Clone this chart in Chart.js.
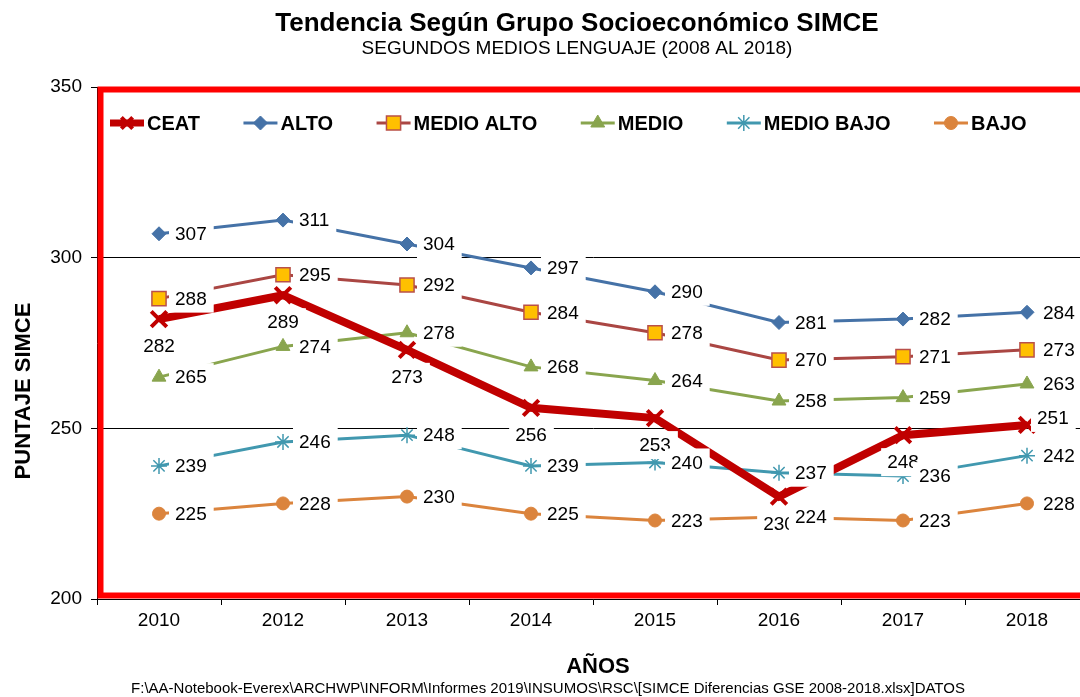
<!DOCTYPE html>
<html><head><meta charset="utf-8">
<script src="https://cdn.jsdelivr.net/npm/chart.js@4/dist/chart.umd.min.js"></script>
<style>
html,body{margin:0;padding:0;background:#fff;overflow:hidden;width:1080px;height:697px}
#wrap{position:relative;width:1154px;height:697px}
canvas{display:block}
</style>
</head><body><div id="wrap"><canvas id="c" width="1154" height="697"></canvas></div>
<script>
const years = ['2010','2012','2013','2014','2015','2016','2017','2018'];
const ceat = [282,289,273,256,253,230,248,251];
const alto = [307,311,304,297,290,281,282,284];
const medioAlto = [288,295,292,284,278,270,271,273];
const medio = [265,274,278,268,264,258,259,263];
const medioBajo = [239,246,248,239,240,237,236,242];
const bajo = [225,228,230,225,223,224,223,228];
const seriesNames = ['CEAT','ALTO','MEDIO ALTO','MEDIO','MEDIO BAJO','BAJO'];
const titleText = 'Tendencia Según Grupo Socioeconómico SIMCE';
const subtitleText = 'SEGUNDOS MEDIOS LENGUAJE (2008 AL 2018)';
const xTitle = 'AÑOS';
const yTitle = 'PUNTAJE SIMCE';
const footerText = 'F:\\AA-Notebook-Everex\\ARCHWP\\INFORM\\Informes 2019\\INSUMOS\\RSC\\[SIMCE Diferencias GSE 2008-2018.xlsx]DATOS';

const FONT = '"Liberation Sans", Arial, Helvetica, sans-serif';

const datasets = [
  {label: seriesNames[0], data: ceat, borderColor:'#C00000', backgroundColor:'#C00000', borderWidth:8,
   pointStyle:'crossRot', pointRadius:11, pointBorderWidth:4, legendRadius:8, legendLine:7},
  {label: seriesNames[1], data: alto, borderColor:'#4572A7', backgroundColor:'#4572A7', borderWidth:3,
   pointStyle:'rectRot', pointRadius:7, pointBorderWidth:1, legendRadius:7, legendLine:3},
  {label: seriesNames[2], data: medioAlto, borderColor:'#AA4643', backgroundColor:'#FFC000', pointBorderColor:'#B9504A', borderWidth:3,
   pointStyle:'rect', pointRadius:10, pointBorderWidth:1.5, legendRadius:10, legendLine:3},
  {label: seriesNames[3], data: medio, borderColor:'#89A54E', backgroundColor:'#89A54E', borderWidth:3,
   pointStyle:'triangle', pointRadius:8, pointBorderWidth:1, legendRadius:8, legendLine:3},
  {label: seriesNames[4], data: medioBajo, borderColor:'#4198AF', backgroundColor:'#4198AF', borderWidth:3,
   pointStyle:'star', pointRadius:8, pointBorderWidth:1.5, legendRadius:8, legendLine:3},
  {label: seriesNames[5], data: bajo, borderColor:'#DB843D', backgroundColor:'#DB843D', borderWidth:3,
   pointStyle:'circle', pointRadius:6.5, pointBorderWidth:1, legendRadius:6.5, legendLine:3}
];
datasets.forEach(d => { d.tension = 0; d.fill = false; d.pointHoverRadius = d.pointRadius; d.yAxisID = 'y'; });

const framePlugin = {
  id: 'frame',
  afterDatasetsDraw(chart) {
    const {ctx, chartArea: a} = chart;
    ctx.save();
    ctx.strokeStyle = '#FF0000';
    ctx.lineWidth = 6;
    ctx.strokeRect(a.left + 3.5, a.top + 2.5, a.right - a.left - 7, a.bottom - a.top - 6);
    ctx.restore();
  }
};

const legendPlugin = {
  id: 'customLegend',
  afterDraw(chart) {
    const {ctx, chartArea: a} = chart;
    ctx.save();
    ctx.font = 'bold 20px ' + FONT;
    ctx.textBaseline = 'middle';
    ctx.textAlign = 'left';
    let x = a.left + 12;
    const y = a.top + 36;
    chart.data.datasets.forEach(ds => {
      ctx.strokeStyle = ds.borderColor;
      ctx.lineWidth = ds.legendLine;
      ctx.lineCap = 'butt';
      ctx.beginPath(); ctx.moveTo(x + 1, y); ctx.lineTo(x + 35, y); ctx.stroke();
      ctx.fillStyle = ds.backgroundColor;
      ctx.strokeStyle = ds.pointBorderColor || ds.borderColor;
      ctx.lineWidth = ds.pointBorderWidth;
      Chart.helpers.drawPoint(ctx, {pointStyle: ds.pointStyle, rotation: 0, radius: ds.legendRadius, borderWidth: ds.pointBorderWidth}, x + 18, y);
      ctx.fillStyle = '#000';
      ctx.fillText(ds.label, x + 38, y + 1);
      x += 38 + ctx.measureText(ds.label).width + 42.5;
    });
    ctx.restore();
  }
};

const labelPlugin = {
  id: 'valueLabels',
  afterDraw(chart) {
    const {ctx} = chart;
    ctx.save();
    ctx.font = '19px ' + FONT;
    ctx.textBaseline = 'middle';
    ctx.textAlign = 'left';
    chart.data.datasets.forEach((ds, i) => {
      const meta = chart.getDatasetMeta(i);
      meta.data.forEach((pt, j) => {
        const txt = String(ds.data[j]);
        const w = ctx.measureText(txt).width;
        let tx, ty;
        if (i === 0) {
          if (j === ds.data.length - 1) { tx = pt.x + 10; ty = pt.y - 7; }
          else { tx = pt.x - w / 2; ty = pt.y + 27; }
        } else { tx = pt.x + 16; ty = pt.y; }
        ctx.fillStyle = '#FFFFFF';
        ctx.fillRect(tx - 6, ty - 14, w + 13, 28);
        ctx.fillStyle = '#000000';
        ctx.fillText(txt, tx, ty + 1);
      });
    });
    ctx.restore();
  }
};

const textPlugin = {
  id: 'extraText',
  afterDraw(chart) {
    const {ctx} = chart;
    ctx.save();
    ctx.fillStyle = '#000';
    ctx.textAlign = 'center';
    ctx.textBaseline = 'middle';
    ctx.font = 'bold 22px ' + FONT;
    ctx.fillText(xTitle, 598, 667);
    ctx.save();
    ctx.translate(24, 391);
    ctx.rotate(-Math.PI / 2);
    ctx.fillText(yTitle, 0, 0);
    ctx.restore();
    ctx.font = '15px ' + FONT;
    ctx.fillText(footerText, 548, 689);
    ctx.restore();
  }
};

Chart.defaults.font.family = FONT;
Chart.defaults.color = '#000';

new Chart(document.getElementById('c'), {
  type: 'line',
  data: { labels: years, datasets },
  options: {
    responsive: false,
    animation: false,
    devicePixelRatio: 1,
    layout: { padding: 0 },
    plugins: {
      legend: { display: false },
      tooltip: { enabled: false },
      title: { display: true, text: titleText, color: '#000',
               font: { size: 26, weight: 'bold', family: FONT, lineHeight: 1.0 }, padding: { top: 11, bottom: 0 } },
      subtitle: { display: true, text: subtitleText, color: '#000',
               font: { size: 19, family: FONT, lineHeight: 1.2 }, padding: { top: 0, bottom: 27.2 } }
    },
    scales: {
      x: {
        type: 'category',
        offset: true,
        afterFit: s => { s.height = 98; },
        grid: { drawOnChartArea: false, offset: true, color: '#000', tickLength: 6, lineWidth: 1 },
        border: { color: '#000', width: 1 },
        ticks: { font: { size: 19, family: FONT }, color: '#000', padding: 4, maxRotation: 0 }
      },
      y: {
        position: 'left',
        min: 200, max: 350,
        afterFit: s => { s.width = 97; },
        grid: { color: '#000', tickLength: 6, lineWidth: 1 },
        border: { color: '#000', width: 1 },
        ticks: { stepSize: 50, font: { size: 19, family: FONT }, color: '#000', padding: 9 }
      },
      spacer: {
        position: 'right',
        min: 200, max: 350,
        afterFit: s => { s.width = 65; },
        grid: { display: false, drawOnChartArea: false, drawTicks: false },
        border: { display: false },
        ticks: { display: false }
      }
    }
  },
  plugins: [framePlugin, labelPlugin, legendPlugin, textPlugin]
});
</script>
</body></html>
